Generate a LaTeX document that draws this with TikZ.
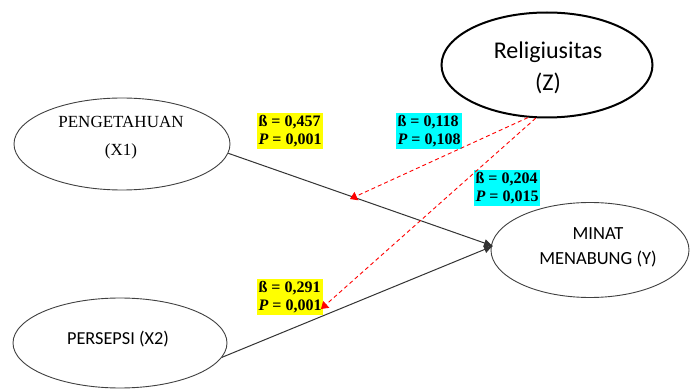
\documentclass[tikz,border=0pt]{standalone}
\usepackage{fontspec}
\setmainfont{Liberation Serif}
\newfontfamily\calibri{Carlito}
\usetikzlibrary{shapes.geometric,arrows.meta}
\definecolor{hlyellow}{RGB}{255,255,0}
\definecolor{hlcyan}{RGB}{0,255,255}
\begin{document}
\begin{tikzpicture}[x=1pt,y=-1pt,
  var/.style={draw=black!75, line width=0.9pt, ellipse, inner sep=0pt},
  txt/.style={inner sep=0pt, align=center},
  path1/.style={draw=black!80, line width=1pt, -{Latex[length=9pt,width=8pt]}},
  modline/.style={draw=red, line width=0.9pt, dash pattern=on 4pt off 3pt, -{Triangle[length=7pt,width=9pt]}},
  coef/.style={inner sep=1pt, font=\fontsize{16}{18}\selectfont\bfseries, align=left, minimum width=66pt, minimum height=36pt},
  yel/.style={coef, fill=hlyellow},
  cya/.style={coef, fill=hlcyan}]
\fill[white] (0,0) rectangle (694,390);
\useasboundingbox (0,0) rectangle (694,390);

% variables
\node[var, minimum width=216pt, minimum height=92pt] (x1) at (122,144) {};
\node[txt, font=\fontsize{17}{28}\selectfont] (x1t) at (121,138) {PENGETAHUAN\\(X1)};
\node[var, minimum width=214pt, minimum height=90pt] (x2) at (120,343) {};
\node[txt, font=\calibri\fontsize{18.3}{20}\selectfont] (x2t) at (118,339) {PERSEPSI (X2)};
\node[var, minimum width=198pt, minimum height=95pt] (y) at (590,250) {};
\node[txt, font=\calibri\fontsize{18.5}{25}\selectfont] (yt) at (598,247) {MINAT\\MENABUNG (Y)};
\node[var, draw=black, line width=2pt, minimum width=211pt, minimum height=105pt] (z) at (547,65) {};
\node[txt, font=\calibri\fontsize{24}{32}\selectfont] (zt) at (548,68) {Religiusitas\\(Z)};

% connectors
\coordinate (yin) at (493,246);
\coordinate (m1) at (350,199);
\coordinate (m2) at (321,309);
\draw[path1] (x1.-5) -- (yin);
\draw[path1] (x2.-8) -- (yin);

% coefficients
\node[yel] (c1) at (290,131) {ß = 0,457\\\textit{P} = 0,001};
\node[cya] (c2) at (429,131) {ß = 0,118\\\textit{P} = 0,108};
\node[cya] (c3) at (507,188) {ß = 0,204\\\textit{P} = 0,015};
\node[yel] (c4) at (290,297) {ß = 0,291\\\textit{P} = 0,001};

% moderation
\draw[modline] (z.-110) -- (m1);
\draw[modline] (z.-102) -- (m2);
\end{tikzpicture}
\end{document}
